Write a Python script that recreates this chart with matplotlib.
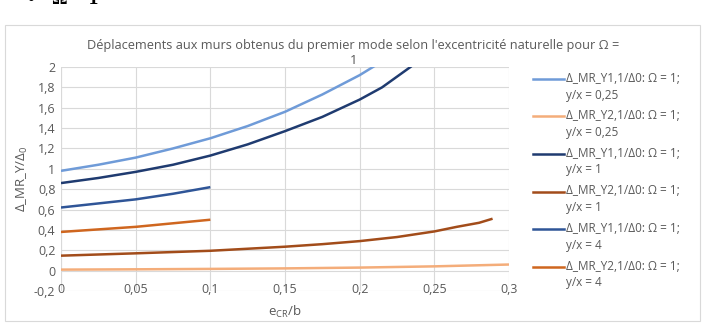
import matplotlib
matplotlib.use("Agg")
import matplotlib.pyplot as plt
from matplotlib.lines import Line2D
from matplotlib.patches import Rectangle

# e_CR/b values and ratios
x_y1_025 = [0, 0.025, 0.05, 0.075, 0.1, 0.125, 0.15, 0.175, 0.2, 0.21, 0.22]
y1_025 = [0.98, 1.04, 1.11, 1.2, 1.3, 1.42, 1.56, 1.73, 1.92, 2.01, 2.1]

x_y1_1 = [0, 0.025, 0.05, 0.075, 0.1, 0.125, 0.15, 0.175, 0.2, 0.215, 0.234, 0.24]
y1_1 = [0.86, 0.91, 0.97, 1.04, 1.13, 1.24, 1.37, 1.51, 1.68, 1.8, 2.0, 2.07]

x_y2_025 = [0, 0.05, 0.1, 0.15, 0.2, 0.25, 0.3]
y2_025 = [0.01, 0.013, 0.017, 0.022, 0.03, 0.042, 0.06]

x_y2_1 = [0, 0.05, 0.1, 0.15, 0.175, 0.2, 0.225, 0.25, 0.265, 0.28, 0.289]
y2_1 = [0.147, 0.17, 0.195, 0.235, 0.26, 0.29, 0.33, 0.385, 0.43, 0.47, 0.51]

x_y_4 = [0, 0.025, 0.05, 0.075, 0.1]
y1_4 = [0.62, 0.66, 0.70, 0.755, 0.82]
y2_4 = [0.38, 0.405, 0.43, 0.465, 0.5]

labels = [
    "Δ_MR_Y1,1/Δ0: Ω = 1;\ny/x = 0,25",
    "Δ_MR_Y2,1/Δ0: Ω = 1;\ny/x = 0,25",
    "Δ_MR_Y1,1/Δ0: Ω = 1;\ny/x = 1",
    "Δ_MR_Y2,1/Δ0: Ω = 1;\ny/x = 1",
    "Δ_MR_Y1,1/Δ0: Ω = 1;\ny/x = 4",
    "Δ_MR_Y2,1/Δ0: Ω = 1;\ny/x = 4",
]
colors = ["#6f9bd8", "#f4ad7a", "#1f3b70", "#a24c1a", "#2f5597", "#cf661f"]

xticks = [0, 0.05, 0.1, 0.15, 0.2, 0.25, 0.3]
yticks = [-0.2, 0, 0.2, 0.4, 0.6, 0.8, 1, 1.2, 1.4, 1.6, 1.8, 2]

plt.rcParams['font.family'] = ['Open Sans', 'DejaVu Sans']
grey = "#595959"

fig = plt.figure(figsize=(7.03, 3.24), dpi=100)
ax = fig.add_axes([61/703, 1-291/324, 448/703, 224/324])

series = [(x_y1_025, y1_025), (x_y2_025, y2_025), (x_y1_1, y1_1),
          (x_y2_1, y2_1), (x_y_4, y1_4), (x_y_4, y2_4)]
for (xs, ys), c in zip(series, colors):
    ax.plot(xs, ys, color=c, lw=1.8, solid_capstyle='butt')

ax.set_xlim(0, 0.3)
ax.set_ylim(-0.2, 2)
ax.set_xticks(xticks)
ax.set_yticks(yticks)
ax.set_xticklabels([f"{t:g}".replace('.', ',') for t in xticks])
ax.set_yticklabels([f"{t:g}".replace('.', ',') for t in yticks])
ax.grid(True, color="#d9d9d9", lw=0.8)
ax.set_axisbelow(True)
for s in ax.spines.values():
    s.set_visible(False)
ax.axvline(0, color="#d9d9d9", lw=0.8, zorder=0)
ax.tick_params(length=0, labelsize=9, colors=grey, pad=4)
# Excel puts the x labels on the -0.2 row
ax.tick_params(axis='x', pad=-6)
ax.set_xlabel("e$_{\\mathregular{CR}}$/b", fontsize=9.5, color=grey, labelpad=6)
ax.set_ylabel("Δ_MR_Y/Δ$_{\\mathregular{0}}$", fontsize=9.5, color=grey, labelpad=3)

fig.text(0.503, 1-45/324, "Déplacements aux murs obtenus du premier mode selon l'excentricité naturelle pour Ω =",
         ha='center', va='center', fontsize=9.2, color=grey)
fig.text(0.503, 1-61/324, "1", ha='center', va='center', fontsize=9.2, color=grey)

# chart border
fig.add_artist(Rectangle((5/703, 3/324), 695/703, 296/324, transform=fig.transFigure,
                         fill=False, edgecolor="#d9d9d9", lw=0.8))

# page heading cut off at the top
fig.text(0.036, 1.0, "•", fontsize=13, va='center', family='DejaVu Sans')
fig.text(0.074, 1.0, "Ω = 1", fontsize=14, va='center', fontweight='bold', family='Liberation Serif')

# legend
for i, (lab, c) in enumerate(zip(labels, colors)):
    ytop = 1 - (79 + 37.5 * i) / 324
    fig.add_artist(Line2D([533/703, 564/703], [ytop, ytop], color=c, lw=1.8,
                          transform=fig.transFigure))
    fig.text(566/703, ytop + 7/324, lab, fontsize=8.5, color=grey, va='top', ha='left',
             linespacing=1.35)

fig.savefig("out.png", dpi=100)
